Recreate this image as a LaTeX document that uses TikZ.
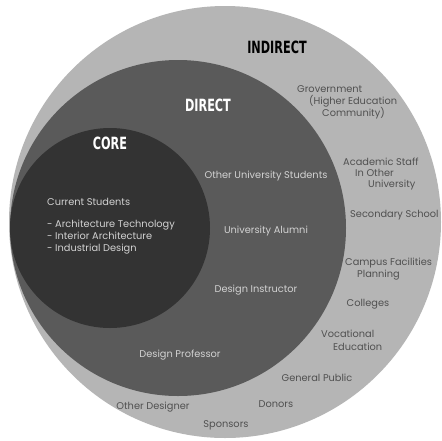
\documentclass[tikz,border=0pt]{standalone}
\usepackage{fontspec}
\setmainfont{Poppins}
\newfontfamily\headfont{DejaVu Sans Condensed}
\definecolor{ringlight}{HTML}{B5B5B5}
\definecolor{ringmid}{HTML}{5A5A5A}
\definecolor{ringdark}{HTML}{333333}
\definecolor{txtlight}{HTML}{D2D2D2}
\definecolor{txtdark}{HTML}{505050}

\tikzset{
	ring/.style = {circle, inner sep=0pt, draw=none},
	head/.style = {font=\headfont\bfseries\fontsize{12.5}{13}\selectfont, yscale=1.35},
	inlabel/.style = {font=\fontsize{9.8}{12}\selectfont, text=txtlight, inner sep=0pt},
	outlabel/.style = {font=\fontsize{9.8}{12}\selectfont, text=txtdark, inner sep=0pt},
}

\begin{document}
\begin{tikzpicture}[x=1pt, y=-1pt]
				\clip (0,0) rectangle (442,440);
				\fill[white] (0,0) rectangle (442,440);
				
				\node[ring, fill=ringlight, minimum size=432pt] (indirect) at (225,222) {};
				\node[ring, fill=ringmid, minimum size=336pt] (direct) at (178,228) {};
				\node[ring, fill=ringdark, minimum size=200pt] (core) at (110,228) {};
				
				\node[head, text=black] (indirectlbl) at (277,47) {INDIRECT};
				\node[head, text=white] (directlbl) at (208,105) {DIRECT};
				\node[head, text=white] (corelbl) at (110,143) {CORE};
				
				\node[inlabel, anchor=west] (current) at (47,202) {Current Students};
				\node[inlabel, anchor=north west, align=left] (majors) at (47,220) {- Architecture Technology\\- Interior Architecture\\- Industrial Design};
				
				\node[inlabel] (otherstud) at (266,176) {Other University Students};
				\node[inlabel] (alumni) at (266,231) {University Alumni};
				\node[inlabel] (instructor) at (256,290) {Design Instructor};
				\node[inlabel] (professor) at (180,355) {Design Professor};
				
				\node[outlabel, anchor=west] (gov1) at (297,89) {Grovernment};
				\node[outlabel, anchor=west] (gov2) at (309,101) {(Higher Education};
				\node[outlabel, anchor=west] (gov3) at (322,113) {Community)};
				\node[outlabel, anchor=west] (staff1) at (343,162) {Academic Staff};
				\node[outlabel, anchor=west] (staff2) at (355,173) {In Other};
				\node[outlabel, anchor=west] (staff3) at (368,185) {University};
				\node[outlabel, anchor=west] (secondary) at (350,215) {Secondary School};
				\node[outlabel, anchor=west] (campus1) at (345,263) {Campus Facilities};
				\node[outlabel, anchor=west] (campus2) at (357,275) {Planning};
				\node[outlabel] (colleges) at (368,304) {Colleges};
				\node[outlabel, anchor=west] (voc1) at (321,334) {Vocational};
				\node[outlabel, anchor=west] (voc2) at (333,347) {Education};
				\node[outlabel] (public) at (317,378) {General Public};
				\node[outlabel] (donors) at (276,404) {Donors};
				\node[outlabel] (designer) at (153,407) {Other Designer};
				\node[outlabel] (sponsors) at (226,425) {Sponsors};
\end{tikzpicture}
\end{document}
